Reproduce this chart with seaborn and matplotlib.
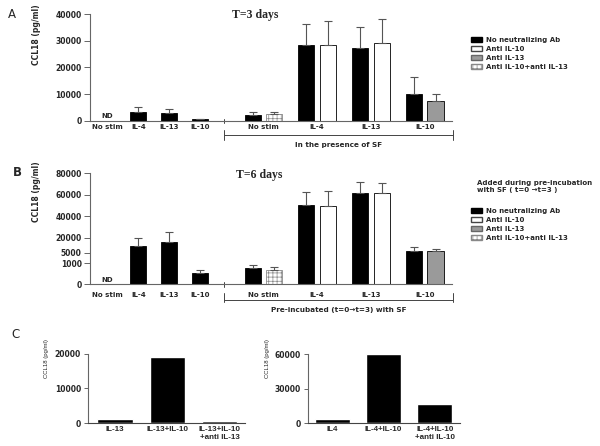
import numpy as np
import pandas as pd
import matplotlib
matplotlib.use('Agg')
import matplotlib.pyplot as plt
import matplotlib.transforms as mtransforms
from matplotlib.patches import Patch
from matplotlib.colors import to_rgb
import seaborn as sns

sns.set_style('ticks')
plt.rcParams['font.family'] = ['DejaVu Sans']
plt.rcParams['font.weight'] = 'bold'
plt.rcParams['hatch.linewidth'] = 0.5

# ---- dados ----
stim_labels = ['No stim', 'IL-4', 'IL-13', 'IL-10']
antibodies = ['No neutralizing Ab', 'Anti IL-10', 'Anti IL-13', 'Anti IL-10+anti IL-13']
second_ab = ['Anti IL-10+anti IL-13', 'Anti IL-10', 'Anti IL-10', 'Anti IL-13']

# T=3 dias
a_pre = [np.nan, 3300, 2900, 600]
a_pre_sd = [np.nan, 2000, 1600, 200]
a_sf_first = [2000, 28200, 27200, 10000]
a_sf_first_sd = [1100, 7900, 8100, 6300]
a_sf_second = [2400, 28500, 29000, 7300]
a_sf_second_sd = [800, 9000, 9100, 2600]

# T=6 dias
b_pre = [np.nan, 11700, 15700, 550]
b_pre_sd = [np.nan, 7700, 9300, 120]
b_sf_first = [780, 50500, 61900, 7000]
b_sf_first_sd = [125, 11800, 9700, 3400]
b_sf_second = [680, 49300, 61400, 7000]
b_sf_second_sd = [145, 13900, 9300, 2000]
b_ticks = [0, 1000, 5000, 20000, 40000, 60000, 80000]

# Painel C
c1_labels = ['IL-13', 'IL-13+IL-10', 'IL-13+IL-10\n+anti IL-13']
c1_values = [1100, 19000, 700]
c2_labels = ['IL4', 'IL-4+IL-10', 'IL-4+IL-10\n+anti IL-10']
c2_values = [3700, 60000, 16500]

# ---- layout ----
pre_pos = 0.8 + 1.43 * np.arange(4)
pair_pos = 8.0 + 2.48 * np.arange(4)
divider = 6.2
x_end = 16.75
CHECK = '#fdfdfd'
palette = {'No neutralizing Ab': 'black', 'Anti IL-10': 'white',
           'Anti IL-13': '#9a9a9a', 'Anti IL-10+anti IL-13': CHECK}


def make_df(pre, pre_sd, first, first_sd, second, second_sd):
    rows = []
    for i in range(4):
        if not np.isnan(pre[i]):
            rows.append((pre_pos[i], pre[i], pre_sd[i], antibodies[0]))
        rows.append((pair_pos[i] - 0.5, first[i], first_sd[i], antibodies[0]))
        rows.append((pair_pos[i] + 0.5, second[i], second_sd[i], second_ab[i]))
    return pd.DataFrame(rows, columns=['pos', 'value', 'sd', 'ab'])


def draw_panel(ax, df):
    sns.barplot(data=df, x='pos', y='value', hue='ab', hue_order=antibodies,
                palette=palette, saturation=1, native_scale=True, dodge=False,
                width=0.74, errorbar=None, edgecolor='black', linewidth=0.6,
                legend=False, ax=ax)
    for p in ax.patches:
        if np.allclose(p.get_facecolor()[:3], to_rgb(CHECK)):
            p.set_facecolor('white')
            p.set_hatch('++++')
            p.set_edgecolor('#888888')
    ax.errorbar(df['pos'], df['value'], yerr=[np.zeros(len(df)), df['sd']],
                fmt='none', ecolor='#555555', elinewidth=0.8, capsize=3, capthick=0.8)
    ax.set_xlim(0, 16.7)
    ax.set_xticks(list(pre_pos) + list(pair_pos))
    ax.set_xticklabels(stim_labels + stim_labels)
    ax.set_xlabel('')
    ax.set_ylabel('')
    sns.despine(ax=ax)
    for s in ['left', 'bottom']:
        ax.spines[s].set_color('#666666')
        ax.spines[s].set_linewidth(0.8)
    ax.tick_params(axis='y', length=4, width=0.7, color='#666666', pad=2, labelsize=5.5)
    ax.tick_params(axis='x', length=0, labelsize=5)


def bracket(ax, y_top, y_bot, y_line, y_text, tick, text):
    tr = mtransforms.blended_transform_factory(ax.transData, ax.transAxes)
    kw = dict(color='#444444', lw=0.7, transform=tr, clip_on=False)
    ax.plot([divider, divider], [y_top, y_bot], **kw)
    ax.plot([x_end, x_end], [y_top, y_bot], **kw)
    ax.plot([divider, x_end], [y_line, y_line], **kw)
    ax.plot([divider, divider], tick, **kw)
    ax.text((divider + x_end) / 2, y_text, text, transform=tr,
            ha='center', va='center', fontsize=5.2)


def legend(fig, y_top):
    handles = [Patch(facecolor='black', edgecolor='black'),
               Patch(facecolor='white', edgecolor='#444444'),
               Patch(facecolor='#9a9a9a', edgecolor='#666666'),
               Patch(facecolor='white', edgecolor='#888888', hatch='++++')]
    fig.legend(handles, antibodies, loc='upper left',
               bbox_to_anchor=(471 / 600, 1 - y_top / 446), frameon=False,
               fontsize=5, handlelength=1.6, handleheight=0.8, labelspacing=0.4,
               handletextpad=0.6, borderpad=0, borderaxespad=0)


fig = plt.figure(figsize=(6, 4.46), dpi=100)

# ---- A: T=3 dias ----
ax_a = fig.add_axes([0.15, 0.7294, 0.6033, 0.2392])
df_a = make_df(a_pre, a_pre_sd, a_sf_first, a_sf_first_sd, a_sf_second, a_sf_second_sd)
draw_panel(ax_a, df_a)
ax_a.set_ylim(0, 40000)
ax_a.set_yticks([0, 10000, 20000, 30000, 40000])
ax_a.tick_params(axis='x', pad=2.5)
ax_a.text(pre_pos[0], 0.045, 'ND', transform=mtransforms.blended_transform_factory(
    ax_a.transData, ax_a.transAxes), ha='center', va='center', fontsize=5)
ax_a.text(0.456, 0.99, 'T=3 days', transform=ax_a.transAxes, ha='center', va='center',
          family='Liberation Serif', fontsize=8.5)
ax_a.text(-0.149, 0.81, 'CCL18 (pg/ml)', transform=ax_a.transAxes, rotation=90,
          ha='center', va='center', fontsize=5.5)
bracket(ax_a, -0.087, -0.181, -0.131, -0.228, [0.016, -0.026], 'In the presence of SF')
legend(fig, 37)

# ---- B: T=6 dias (eixo segmentado) ----
b_marks = [0, 1000, 5000, 20000, 80000]
b_place = [0, 21, 31.6, 46.6, 111]


def fwd(y):
    return np.interp(y, b_marks, b_place)


def inv(p):
    return np.interp(p, b_place, b_marks)


ax_b = fig.add_axes([0.15, 0.3626, 0.6033, 0.2489])
ax_b.set_yscale('function', functions=(fwd, inv))
df_b = make_df(b_pre, b_pre_sd, b_sf_first, b_sf_first_sd, b_sf_second, b_sf_second_sd)
draw_panel(ax_b, df_b)
ax_b.set_ylim(0, 80000)
ax_b.set_yticks(b_ticks)
ax_b.set_yticklabels([str(t) for t in b_ticks])
ax_b.yaxis.set_minor_locator(matplotlib.ticker.NullLocator())
ax_b.tick_params(axis='x', pad=5.5)
ax_b.text(pre_pos[0], 0.04, 'ND', transform=mtransforms.blended_transform_factory(
    ax_b.transData, ax_b.transAxes), ha='center', va='center', fontsize=5)
ax_b.text(0.467, 0.985, 'T=6 days', transform=ax_b.transAxes, ha='center', va='center',
          family='Liberation Serif', fontsize=8.5)
ax_b.text(-0.149, 0.83, 'CCL18 (pg/ml)', transform=ax_b.transAxes, rotation=90,
          ha='center', va='center', fontsize=5.5)
bracket(ax_b, -0.078, -0.159, -0.14, -0.235, [0.023, -0.022],
        'Pre-incubated (t=0\u2192t=3) with SF')
fig.text(477 / 600, 1 - 186.7 / 446, 'Added during pre-incubation\nwith SF ( t=0 \u2192t=3 )',
         ha='left', va='center', fontsize=5, linespacing=1.3)
legend(fig, 208)

# ---- C ----
for rect, labels, values, top, left in [
        ([0.1467, 0.0509, 0.2617, 0.1561], c1_labels, c1_values, 20000, -0.52),
        ([0.5133, 0.0509, 0.2533, 0.1550], c2_labels, c2_values, 60000, -0.47)]:
    ax = fig.add_axes(rect)
    sns.barplot(x=labels, y=values, color='black', saturation=1, width=0.68, ax=ax)
    ax.set_xlim(left, 2.49)
    ax.set_ylim(0, top)
    ax.set_yticks([0, top / 2, top])
    ax.set_yticklabels([str(int(v)) for v in [0, top / 2, top]])
    sns.despine(ax=ax)
    ax.spines['left'].set_color('#666666')
    ax.spines['bottom'].set_color('#444444')
    ax.spines['left'].set_linewidth(0.8)
    ax.spines['bottom'].set_linewidth(0.8)
    ax.tick_params(axis='y', length=3, width=0.7, color='#666666', pad=2, labelsize=5.5)
    ax.tick_params(axis='x', length=0, pad=2)
    for lbl in ax.get_xticklabels():
        lbl.set_family('Liberation Sans')
        lbl.set_fontsize(5.8)
    ax.text(-0.265, 0.93, 'CCL18 (pg/ml)', transform=ax.transAxes, rotation=90,
            ha='center', va='center', fontsize=4.3, family='Liberation Sans',
            fontweight='normal')

# letras dos paineis
fig.text(12 / 600, 1 - 14 / 446, 'A', ha='center', va='center', fontsize=8.5, fontweight='normal')
fig.text(17 / 600, 1 - 172 / 446, 'B', ha='center', va='center', fontsize=8.5)
fig.text(15 / 600, 1 - 334 / 446, 'C', ha='center', va='center', fontsize=8.5, fontweight='normal')

fig.savefig('out.png', dpi=100)
